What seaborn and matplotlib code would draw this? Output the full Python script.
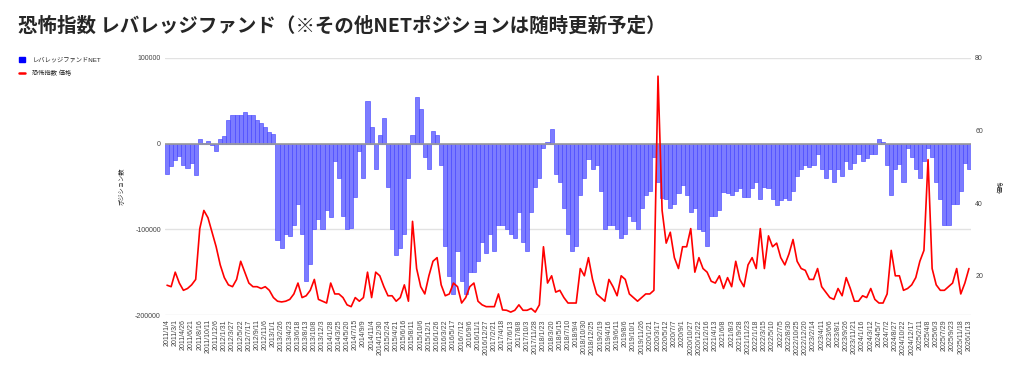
import numpy as np
import pandas as pd
import matplotlib
matplotlib.use('Agg')
import matplotlib.pyplot as plt
import matplotlib.patches as mpatches
from matplotlib.lines import Line2D
import seaborn as sns

# 4週ごとの日付 (2011/1/4 〜 2026/1/13)
dates = pd.date_range('2011-01-04', periods=197, freq='28D')
date_labels = [f"{d.year}/{d.month}/{d.day}" for d in dates]

# レバレッジファンド NET ポジション (枚)
net = [-35000, -26000, -19000, -14000, -25000, -28000, -22000, -37000, 5000, 1000,
       3500, -2000, -9000, 6000, 9000, 28000, 33000, 34000, 33000, 37000,
       34000, 33000, 28000, 24000, 19000, 14000, 11000, -113000, -122000, -105000,
       -108000, -95000, -70000, -105000, -160000, -140000, -100000, -88000, -100000, -78000,
       -86000, -20000, -40000, -85000, -100000, -98000, -62000, -8000, -40000, 50000,
       20000, -30000, 10000, 30000, -50000, -100000, -130000, -122000, -105000, -40000,
       10000, 55000, 40000, -15000, -30000, 15000, 10000, -25000, -120000, -155000,
       -175000, -125000, -160000, -175000, -150000, -150000, -137000, -115000, -128000, -105000,
       -125000, -95000, -95000, -100000, -105000, -110000, -80000, -115000, -125000, -80000,
       -50000, -40000, -5000, 2000, 17000, -35000, -45000, -75000, -105000, -125000,
       -120000, -60000, -40000, -18000, -30000, -25000, -55000, -100000, -95000, -95000,
       -100000, -110000, -105000, -85000, -90000, -100000, -75000, -60000, -55000, -15000,
       -45000, -63000, -65000, -75000, -70000, -58000, -48000, -60000, -80000, -75000,
       -100000, -102000, -120000, -85000, -85000, -78000, -57000, -58000, -60000, -55000,
       -52000, -62000, -62000, -52000, -45000, -65000, -50000, -52000, -65000, -72000,
       -66000, -63000, -66000, -55000, -38000, -30000, -25000, -27000, -25000, -12000,
       -30000, -40000, -30000, -45000, -30000, -38000, -20000, -30000, -22000, -12000,
       -20000, -17000, -12000, -12000, 6000, 2000, -25000, -60000, -30000, -24000,
       -45000, -5000, -15000, -30000, -40000, -20000, -5000, -15000, -45000, -65000,
       -95000, -95000, -70000, -70000, -55000, -22000, -30000]

# 恐怖指数 (VIX) 価格
vix = [17.4, 17.0, 21, 18, 16, 16.5, 17.5, 19, 33, 38,
       36, 32, 28, 23, 19.5, 17.5, 17, 19, 24, 21,
       18, 17, 17, 16.5, 17, 16, 14, 13, 12.8, 13,
       13.5, 15, 18, 14, 14.5, 16, 19, 13.5, 13, 12.5,
       18, 15, 15, 14, 12, 11.5, 14, 13, 14, 21,
       14, 21, 20, 17, 14.5, 14.5, 13, 14, 17.5, 13,
       35, 22, 17, 15, 20, 24, 25, 17.5, 14.5, 15,
       18, 17, 12.5, 14, 17, 18, 13, 12, 11.5, 11.5,
       11.5, 15, 10.6, 10.5, 10, 10.5, 12, 10.5, 10.5, 11,
       10, 12, 28, 18, 20, 15.5, 16, 14, 12.5, 12.5,
       12.5, 22, 20, 25, 19, 15, 14, 13, 19, 17,
       14.5, 20, 19, 15, 14, 13, 14, 15, 15, 16,
       75, 38, 29, 32, 25, 22, 28, 28, 33, 21,
       25, 22, 21, 18.5, 18, 20, 16.5, 19.5, 17, 24,
       19, 17, 23, 25, 22, 33, 22, 31, 28, 29,
       25, 23, 26, 30, 24, 22, 21.5, 19, 19, 22,
       17, 15.5, 14, 13.5, 16.5, 14.5, 19.5, 16.5, 13, 13,
       14.5, 14, 16.5, 13.5, 12.5, 12.5, 15, 27, 20, 20,
       16, 16.5, 17.5, 19.5, 24, 27, 52, 22, 17.5, 16,
       16, 17, 18, 22, 15, 18, 22]

df = pd.DataFrame({'date': date_labels, 'net': net, 'vix': vix,
                   'pos': np.arange(len(date_labels))})

sns.set_style('white')
plt.rcParams['font.family'] = ['Liberation Sans', 'Noto Sans CJK JP']

fig = plt.figure(figsize=(10.24, 3.73), dpi=100)
ax = fig.add_axes([165 / 1024, 1 - 315 / 373, (971 - 165) / 1024, (315 - 58) / 373])

sns.barplot(data=df, x='date', y='net', color='#7c7cff', saturation=1, width=1.0,
            edgecolor='#3c3cff', linewidth=0.4, ax=ax)

ax2 = ax.twinx()
sns.lineplot(data=df, x='pos', y='vix', color='#ff0000', linewidth=1.2, ax=ax2)

ax.set_xlim(-0.5, len(df) - 0.5)
ax.set_ylim(-200000, 100000)
ax.set_yticks([-200000, -100000, 0, 100000])
ax.set_yticklabels(['-200000', '-100000', '0', '100000'])
ax.yaxis.grid(True, color='#e2e2e2', linewidth=1)
ax.set_axisbelow(True)
ax.axhline(0, color='#9a9a9a', linewidth=1.2, zorder=3)

ax2.set_ylim(9.2, 80)
ax2.set_yticks([20, 40, 60, 80])

ax.set_xticks(range(0, len(df), 2))
ax.set_xticklabels(date_labels[::2], rotation=90)

for a in (ax, ax2):
    a.tick_params(length=0, labelsize=5, colors='#444444', pad=3)
    for s in a.spines.values():
        s.set_visible(False)

ax.set_xlabel('')
ax2.set_xlabel('')
ax.set_ylabel('ポジション数', fontsize=4.5, color='#222222', labelpad=8)
ax2.set_ylabel('価格', fontsize=4.5, color='#222222', labelpad=11)

fig.text(18 / 1024, 1 - 26 / 373,
         '恐怖指数 レバレッジファンド（※その他NETポジションは随時更新予定）',
         fontsize=14, fontweight='bold', va='center', ha='left',
         family=['Noto Sans CJK JP', 'DejaVu Sans'])

handles = [mpatches.Patch(color='#0000ff'), Line2D([0], [0], color='#ff0000', lw=1.8)]
fig.legend(handles, ['レバレッジファンドNET', '恐怖指数 価格'], loc='upper left',
           bbox_to_anchor=(13 / 1024, 1 - 51 / 373), frameon=False, fontsize=4.5,
           handlelength=1.0, handleheight=1.0, labelspacing=1.2, handletextpad=1.2)

fig.savefig('out.png', dpi=100)
